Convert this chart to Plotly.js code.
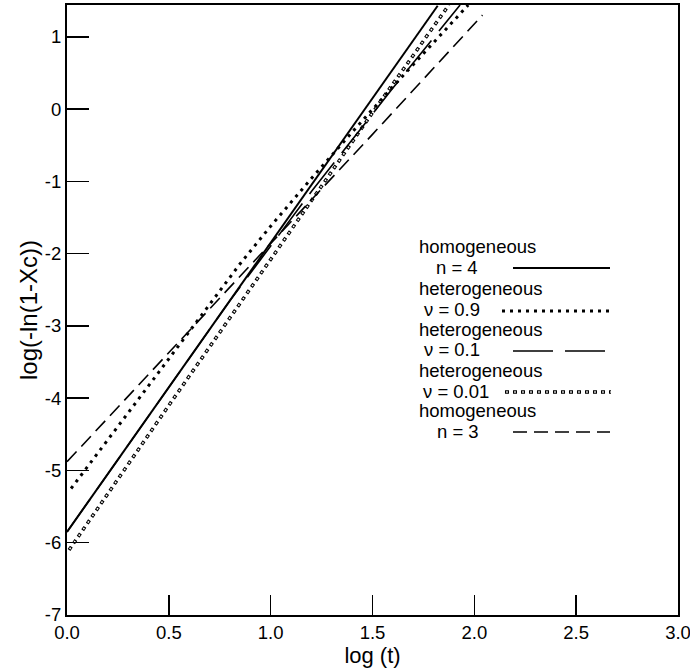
<!DOCTYPE html>
<html><head><meta charset="utf-8">
<script src="https://cdn.plot.ly/plotly-3.0.1.min.js"></script>
<style>html,body{margin:0;padding:0;background:#fff}#chart{width:690px;height:669px}</style>
</head><body><div id="chart"></div>
<script>
// ---- data ----
const seriesNames = ['homogeneous n = 4', 'heterogeneous ν = 0.9', 'heterogeneous ν = 0.1', 'heterogeneous ν = 0.01', 'homogeneous n = 3'];

const xHomN4 = [0, 0.5, 1.0, 1.5, 1.82];
const yHomN4 = [-5.85, -3.85, -1.85, 0.15, 1.43];

const xHetNu09 = [0.02, 0.2, 0.4, 0.6, 0.85, 1.0, 1.2, 1.4, 1.6, 1.8, 1.97];
const yHetNu09 = [-5.25, -4.57, -3.83, -3.08, -2.14, -1.62, -0.96, -0.32, 0.31, 0.92, 1.44];

const xHetNu01 = [0, 0.4, 0.8, 1.2, 1.6, 1.93];
const yHetNu01 = [-5.85, -4.25, -2.65, -1.14, 0.29, 1.44];

const xHetNu001 = [0.01, 0.5, 1.0, 1.5, 1.875];
const yHetNu001 = [-6.10, -4.10, -2.08, -0.05, 1.44];

const xHomN3 = [0, 0.5, 1.0, 1.5, 2.04];
const yHomN3 = [-4.88, -3.37, -1.86, -0.35, 1.30];

const xTickVals = [0, 0.5, 1.0, 1.5, 2.0, 2.5, 3.0];
const xTickText = ['0.0', '0.5', '1.0', '1.5', '2.0', '2.5', '3.0'];
const yTickVals = [-7, -6, -5, -4, -3, -2, -1, 0, 1];
const yTickText = ['-7', '-6', '-5', '-4', '-3', '-2', '-1', '0', '1'];

const legendHeads = ['homogeneous', 'heterogeneous', 'heterogeneous', 'heterogeneous', 'homogeneous'];
const legendSubs = ['n = 4', 'ν = 0.9', 'ν = 0.1', 'ν = 0.01', 'n = 3'];

// ---- styles ----
const FONT = 'Liberation Sans, Arial, Helvetica, sans-serif';
const circOuter = {color: '#000', width: 3.4, dash: '4px,4px'};
const circInner = {color: '#fff', width: 1.6, dash: '0px,1.2px,1.6px,5.2px'};
const styles = [
  {color: '#000', width: 2, dash: 'solid'},
  {color: '#000', width: 3, dash: '3px,5px'},
  {color: '#000', width: 1.6, dash: '40px,12px'},
  null,
  {color: '#000', width: 1.6, dash: '14px,7px'}
];

const traces = [
  {x: xHetNu001, y: yHetNu001, mode: 'lines', line: circOuter, name: seriesNames[3], showlegend: false, hoverinfo: 'skip'},
  {x: xHetNu001, y: yHetNu001, mode: 'lines', line: circInner, name: seriesNames[3], showlegend: false, hoverinfo: 'skip'},
  {x: xHomN3, y: yHomN3, mode: 'lines', line: styles[4], name: seriesNames[4], showlegend: false},
  {x: xHetNu01, y: yHetNu01, mode: 'lines', line: styles[2], name: seriesNames[2], showlegend: false},
  {x: xHetNu09, y: yHetNu09, mode: 'lines', line: styles[1], name: seriesNames[1], showlegend: false},
  {x: xHomN4, y: yHomN4, mode: 'lines', line: styles[0], name: seriesNames[0], showlegend: false}
];

// ---- legend drawn manually (text left, sample right) ----
const L = 67, R = 678, T = 5, B = 615;
const px2x = p => (p - L) / (R - L);
const px2y = p => (B - p) / (B - T);
const headY = [247, 288, 329, 370, 411];
const subY = [267, 309, 349, 391, 431];
const subX = [435, 423, 423, 422, 436];
const sampleY = [268, 311, 351, 392, 432];
const sampleX0 = [513, 502, 513, 505, 513];
const sampleX1 = [610, 612, 611, 611, 610];

const annotations = [];
const shapes = [];
for (let i = 0; i < 5; i++) {
  annotations.push({xref: 'paper', yref: 'paper', x: px2x(418), y: px2y(headY[i]), xanchor: 'left', yanchor: 'middle',
    text: legendHeads[i], showarrow: false, borderpad: 0, font: {family: FONT, size: 18.5, color: '#000'}});
  annotations.push({xref: 'paper', yref: 'paper', x: px2x(subX[i]), y: px2y(subY[i]), xanchor: 'left', yanchor: 'middle',
    text: legendSubs[i], showarrow: false, borderpad: 0, font: {family: FONT, size: 18.5, color: '#000'}});
  const lines = i === 3 ? [circOuter, circInner] : [styles[i]];
  lines.forEach(ln => shapes.push({type: 'line', xref: 'paper', yref: 'paper',
    x0: px2x(sampleX0[i]), x1: px2x(sampleX1[i]), y0: px2y(sampleY[i]), y1: px2y(sampleY[i]), line: ln}));
}

const axisCommon = {
  showgrid: false, zeroline: false, showline: true, linewidth: 2, linecolor: '#000', mirror: true,
  ticks: 'inside', tickwidth: 1.5, tickcolor: '#000', automargin: false,
  tickfont: {family: FONT, size: 18.5, color: '#000'}
};

const layout = {
  width: 690, height: 669,
  margin: {l: L, r: 690 - R, t: T, b: 669 - B},
  paper_bgcolor: '#fff', plot_bgcolor: '#fff',
  font: {family: FONT, color: '#000'},
  showlegend: false,
  xaxis: Object.assign({}, axisCommon, {range: [0, 3], tickvals: xTickVals, ticktext: xTickText, ticklen: 20,
    ticklabeloverflow: 'allow',
    title: {text: 'log (t)', font: {family: FONT, size: 22, color: '#000'}, standoff: 1}}),
  yaxis: Object.assign({}, axisCommon, {range: [-7, 1.44], tickvals: yTickVals, ticktext: yTickText, ticklen: 22,
    title: {text: 'log(-ln(1-Xc))', font: {family: FONT, size: 24, color: '#000'}, standoff: 0}}),
  annotations: annotations,
  shapes: shapes
};

Plotly.newPlot('chart', traces, layout, {staticPlot: true, displayModeBar: false});
</script>
</body></html>
